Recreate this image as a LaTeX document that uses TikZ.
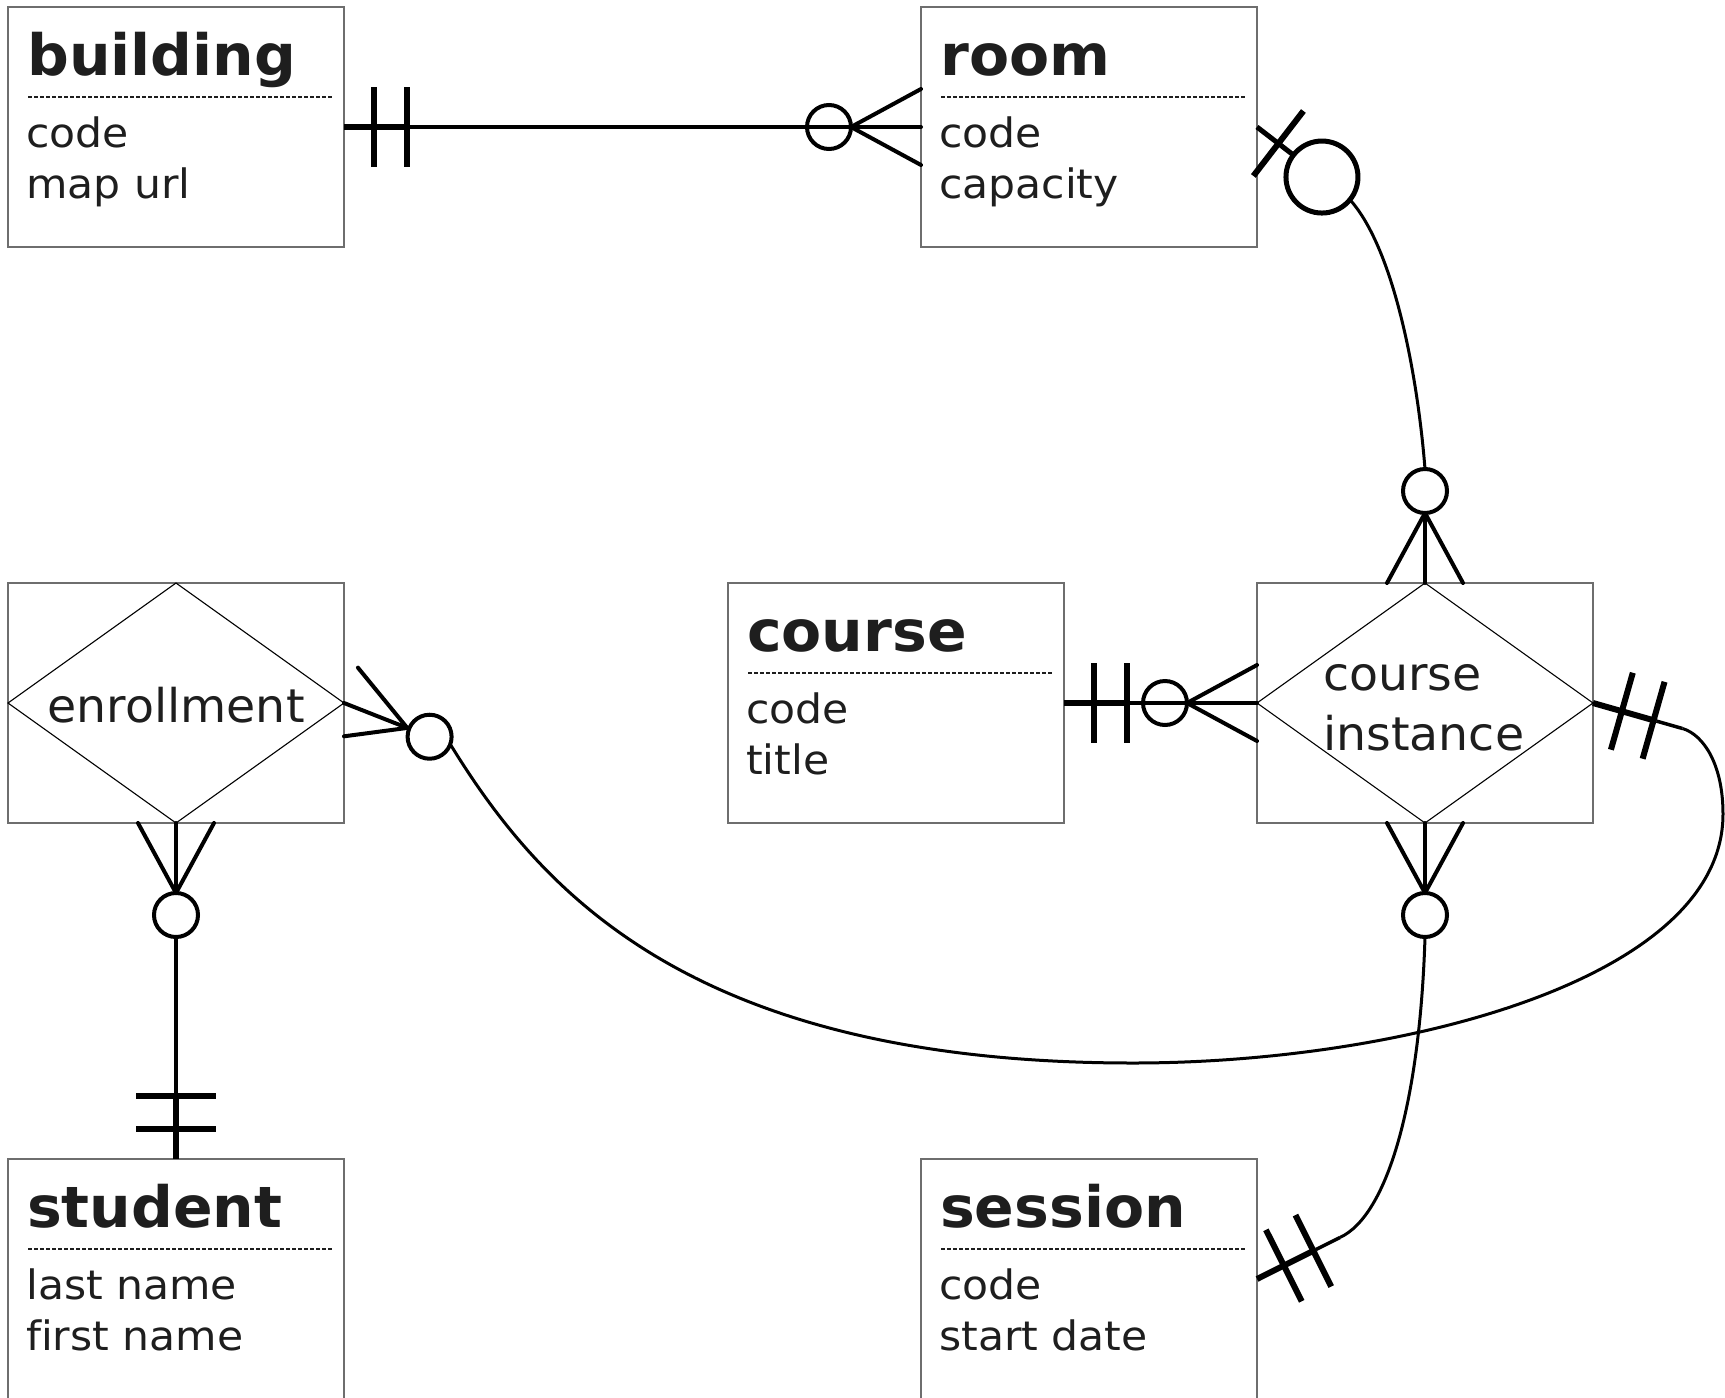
\documentclass[tikz,border=0pt]{standalone}
\usepackage{fontspec}
\setmainfont{DejaVu Sans}[Ligatures=NoCommon]
\newfontfamily\attrfont{DejaVu Sans}[FakeStretch=1.05, Ligatures=NoCommon]
\newfontfamily\titlefont{DejaVu Sans}[FakeStretch=1.025, Ligatures=NoCommon]
\newfontfamily\relfont{DejaVu Sans}[FakeStretch=1.02, Ligatures=NoCommon]
\usetikzlibrary{calc}
\definecolor{txt}{HTML}{1E1E1E}
\definecolor{boxline}{HTML}{6E6E6E}
\newcommand\entitybox[6]{%
  \node[entity] (#1) at (#2,#3) {};
  \node[etitle] (#1-t) at ($(#1.north west)+(19,68)$) {#4};
  \draw[sepline] ($(#1.north west)+(20,90)$) -- ($(#1.north east)+(-11,90)$);
  \node[attr] (#1-a) at ($(#1.north west)+(18,140)$) {#5};
  \node[attr] (#1-b) at ($(#1.north west)+(18,191)$) {#6};
}
\newcommand\manyopt[3]{%
  \begin{scope}[shift={(#1)}, rotate=#2]
    \draw[tine] (70,0) -- (0,-38);
    \draw[tine] (70,0) -- (0,0);
    \draw[tine] (70,0) -- (0,38);
    \node[ocirc] (#3) at (92,0) {};
  \end{scope}}
\newcommand\onemand[3]{%
  \begin{scope}[shift={(#1)}, rotate=#2]
    \draw[thickln] (0,0) -- (66,0);
    \draw[barln] (30,-40) -- (30,40);
    \draw[barln] (63,-40) -- (63,40);
    \coordinate (#3) at (66,0);
    \coordinate (#3-far) at (93,0);
  \end{scope}}
\begin{document}
\begin{tikzpicture}[x=1pt,y=-1pt,
  entity/.style={draw=boxline, line width=1.5pt, minimum width=336pt, minimum height=240pt, inner sep=0pt, outer sep=0pt},
  etitle/.style={anchor=base west, inner sep=0pt, text=txt, font=\titlefont\fontsize{57}{68}\selectfont\bfseries},
  attr/.style={anchor=base west, inner sep=0pt, text=txt, font=\attrfont\fontsize{40.5}{51}\selectfont},
  rel/.style={anchor=base, inner sep=0pt, text=txt, font=\relfont\fontsize{46.5}{60}\selectfont},
  sepline/.style={draw=txt, line width=1.3pt, dash pattern=on 4pt off 2pt},
  diam/.style={draw=black, line width=1.1pt},
  tine/.style={line width=4pt, line cap=round},
  barln/.style={line width=6pt},
  thickln/.style={line width=6pt},
  link/.style={line width=3.5pt},
  curveln/.style={line width=3pt},
  ocirc/.style={circle, draw, line width=4pt, minimum size=44pt, inner sep=0pt, outer sep=0pt},
]
\useasboundingbox (0,0) rectangle (1725,1398);

% entities
\entitybox{building}{176}{127}{building}{code}{map url}
\entitybox{room}{1089}{127}{room}{code}{capacity}
\entitybox{course}{896}{703}{course}{code}{title}
\entitybox{student}{176}{1279}{student}{last name}{first name}
\entitybox{session}{1089}{1279}{session}{code}{start date}

% relationships
\node[entity] (enrollment) at (176,703) {};
\draw[diam] (enrollment.north) -- (enrollment.east) -- (enrollment.south) -- (enrollment.west) -- cycle;
\node[rel] (enrollment-l) at ($(enrollment.center)+(0,19)$) {enrollment};

\node[entity] (ci) at (1425,703) {};
\draw[diam] (ci.north) -- (ci.east) -- (ci.south) -- (ci.west) -- cycle;
\node[rel, anchor=base west] (ci-l1) at (1323,690) {course};
\node[rel, anchor=base west] (ci-l2) at (1323,750) {instance};

% building -- room
\onemand{building.east}{0}{bone}
\manyopt{room.west}{180}{rmc}
\draw[link] (bone) -- (rmc.east);

% room -- course instance
\begin{scope}[shift={(room.east)}, rotate=-37.6]
  \draw[line width=5pt] (0,0) -- (46,0);
  \draw[barln] (27,-41) -- (27,41);
  \node[ocirc, line width=5pt, minimum size=72pt] (roc) at (82,0) {};
\end{scope}
\manyopt{ci.north}{90}{cin}
\draw[curveln] (roc.-39) .. controls (1395,250) and (1418,380) .. (cin.north);

% course -- course instance
\onemand{course.east}{0}{cone}
\manyopt{ci.west}{180}{ciw}
\draw[link] (cone) -- (ciw.east);
\draw[line width=2pt] (ciw.east) -- (ciw.center);

% enrollment -- student
\manyopt{enrollment.south}{-90}{ens}
\onemand{student.north}{90}{sone}
\draw[link] (ens.south) -- (sone);

% enrollment -- course instance
\begin{scope}[shift={(enrollment.east)}, rotate=-21.5]
  \draw[tine] (68,0) -- (0,-38);
  \draw[tine] (68,0) -- (0,0);
  \draw[tine] (68,0) -- (12.2,31);
  \node[ocirc] (ene) at (92,0) {};
\end{scope}
\onemand{ci.east}{-15.9}{cie}
\draw[link] (cie) -- (cie-far);
\draw[curveln] (ene.-20) .. controls (540,890) and (690,1063) .. (1133,1063)
  .. controls (1400,1063) and (1723,980) .. (1723,814)
  .. controls (1723,765) and (1704,735) .. (cie-far);

% course instance -- session
\manyopt{ci.south}{-90}{cis}
\onemand{session.east}{26.6}{sesone}
\draw[link] (sesone) -- (sesone-far);
\draw[curveln] (cis.south) .. controls (1420,1100) and (1388,1215) .. (sesone-far);
\end{tikzpicture}
\end{document}
